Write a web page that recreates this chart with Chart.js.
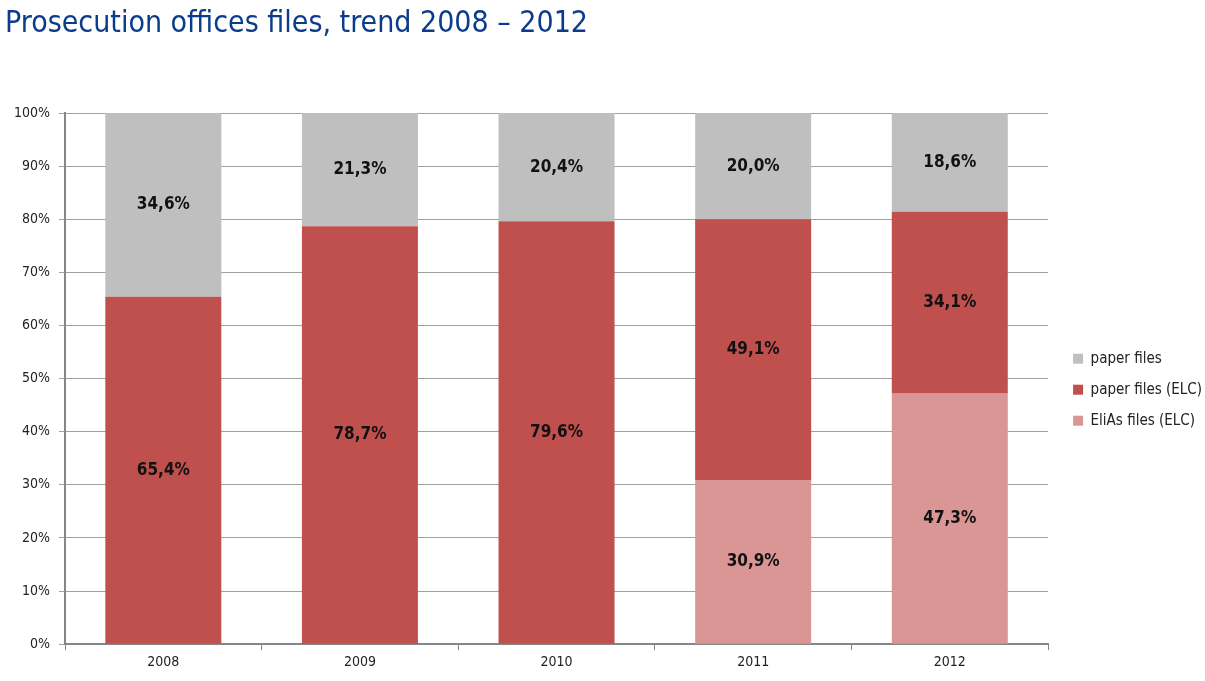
<!DOCTYPE html>
<html>
<head>
<meta charset="utf-8">
<script src="https://cdn.jsdelivr.net/npm/chart.js@4"></script>
<style>
  html, body { margin: 0; padding: 0; background: #fff; }
  #wrap { width: 1205px; height: 681px; position: relative; }
</style>
</head>
<body>
<div id="wrap"><canvas id="filesChart"></canvas></div>
<script>
// Prosecution offices files — stacked 100% bars

const YEARS = ['2008', '2009', '2010', '2011', '2012'];
const ELIAS_ELC = [0, 0, 0, 30.9, 47.3];
const PAPER_ELC = [65.4, 78.7, 79.6, 49.1, 34.1];
const PAPER = [34.6, 21.3, 20.4, 20.0, 18.6];

const FONT = "'DejaVu Sans Condensed', 'DejaVu Sans', sans-serif";

// ─── Labels inside each segment ─────────────────────────────────────────────
const segmentLabels = {
  id: 'segmentLabels',
  afterDatasetsDraw(chart) {
    const ctx = chart.ctx;
    ctx.save();
    ctx.font = 'bold 17px ' + FONT;
    ctx.fillStyle = '#111';
    ctx.textAlign = 'center';
    ctx.textBaseline = 'middle';
    chart.data.datasets.forEach((ds, di) => {
      const meta = chart.getDatasetMeta(di);
      meta.data.forEach((bar, i) => {
        const v = ds.data[i];
        if (!v) return;
        const mid = (bar.y + bar.base) / 2;
        ctx.fillText(v.toFixed(1).replace('.', ',') + '%', bar.x, mid);
      });
    });
    ctx.restore();
  }
};

// nudge the legend a bit away from the plot
const legendNudge = {
  id: 'legendNudge',
  afterUpdate(chart) {
    const lg = chart.legend;
    if (!lg) return;
    lg.left += 9;
    lg.right += 9;
    lg.adjustHitBoxes();
  }
};

new Chart(document.getElementById('filesChart'), {
  type: 'bar',
  data: {
    labels: YEARS,
    datasets: [
      { label: 'EliAs files (ELC)', data: ELIAS_ELC, backgroundColor: '#D99694' },
      { label: 'paper files (ELC)', data: PAPER_ELC, backgroundColor: '#C0504D' },
      { label: 'paper files', data: PAPER, backgroundColor: '#BFBFBF' },
    ],
  },
  options: {
    responsive: true,
    maintainAspectRatio: false,
    animation: false,
    categoryPercentage: 0.59,
    barPercentage: 1,
    layout: { padding: { left: 5, right: 2, top: 0, bottom: 6 } },
    scales: {
      x: {
        stacked: true,
        grid: { offset: true, drawOnChartArea: false, drawTicks: true, tickLength: 6, color: '#868686' },
        border: { color: '#868686', width: 2 },
        ticks: { color: '#222', font: { family: FONT, size: 14 }, padding: 4 },
      },
      y: {
        stacked: true,
        min: 0,
        max: 100,
        ticks: { stepSize: 10, color: '#222', font: { family: FONT, size: 14 }, padding: 9, callback: v => v + '%' },
        grid: { color: '#A0A0A0', tickLength: 6 },
        border: { color: '#868686', width: 2 },
      },
    },
    plugins: {
      title: {
        display: true,
        text: 'Prosecution offices files, trend 2008 – 2012',
        align: 'start',
        color: '#0B3C8C',
        font: { family: FONT, size: 30, weight: 'normal' },
        padding: { top: 6, bottom: 71 },
      },
      legend: {
        position: 'right',
        reverse: true,
        title: { display: true, text: ' ', font: { size: 12 }, padding: { top: 0, bottom: 90 } },
        labels: { boxWidth: 10, boxHeight: 10, padding: 16, color: '#222', font: { family: FONT, size: 15 } },
      },
      tooltip: { enabled: false },
    },
  },
  plugins: [segmentLabels, legendNudge],
});
</script>
</body>
</html>
